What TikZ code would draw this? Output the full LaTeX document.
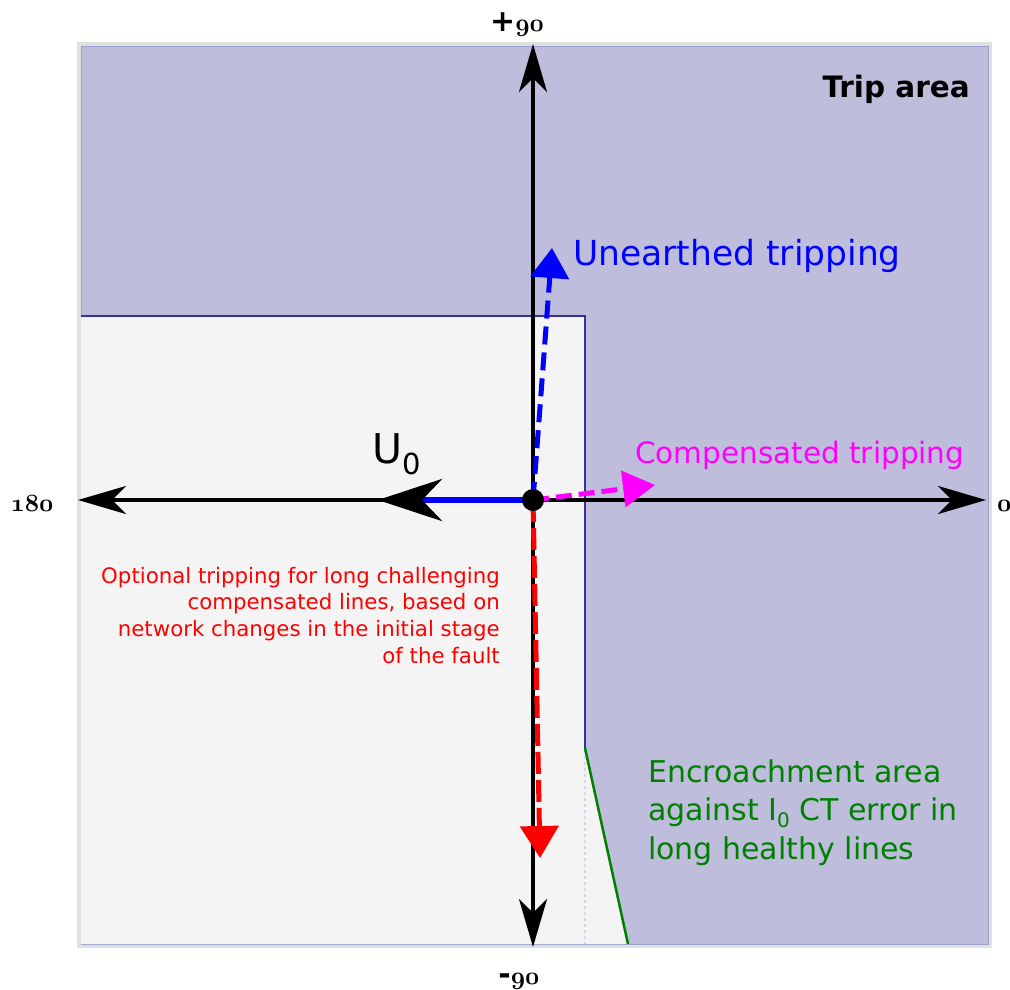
\documentclass[tikz,border=0pt]{standalone}
\usepackage{fontspec}
\setmainfont{DejaVu Sans}
\usetikzlibrary{arrows.meta}
\definecolor{tripfill}{HTML}{BEBEDC}
\definecolor{tripedge}{HTML}{9E9ED0}
\definecolor{lightreg}{HTML}{F4F4F4}
\definecolor{framegray}{HTML}{E0E0E0}
\definecolor{darkedge}{HTML}{333399}
\definecolor{greenline}{HTML}{008000}
\definecolor{lavdash}{HTML}{D6D6EA}
\definecolor{puremag}{HTML}{FF00FF}
\definecolor{purered}{HTML}{FF0000}
\definecolor{pureblue}{HTML}{0000FF}
\newcommand{\oldnum}[1]{{\usefont{OML}{cmm}{b}{it}#1}}
\tikzset{
  axis/.style={line width=4pt, black, {Stealth[length=48pt,width=28pt,inset=14pt]}-{Stealth[length=48pt,width=28pt,inset=14pt]}},
  axlabel/.style={inner sep=0pt, font=\fontsize{30}{30}\selectfont\bfseries},
  dasharrow/.style={line width=5pt, dash pattern=on 18pt off 8pt},
  plain/.style={inner sep=0pt}
}
\begin{document}
\begin{tikzpicture}[x=1pt,y=-1pt]
\useasboundingbox (0,0) rectangle (1010,989);
% frame and regions
\draw[framegray, line width=4pt] (79,44) rectangle (990,946);
\fill[tripfill] (81,46) rectangle (988,944);
\draw[tripedge, line width=1pt] (81,46) rectangle (988,944);
\fill[lightreg] (81,316) -- (585,316) -- (585,748) -- (628,944) -- (81,944) -- cycle;
\draw[lavdash, line width=1.5pt, dashed] (585,750) -- (585,944);
\draw[darkedge, line width=2pt] (81,316) -- (585,316) -- (585,748);
\draw[greenline, line width=2.5pt] (585,748) -- (628,944);
% coordinates
\coordinate (O) at (533,500);
\coordinate (L) at (78,500);
\coordinate (R) at (986,500);
\coordinate (T) at (533,44);
\coordinate (B) at (533,947);
\coordinate (U0tip) at (378,500);
\coordinate (Ut) at (552,248);
\coordinate (Mt) at (655,485);
\coordinate (Rt) at (540,858);
% axes
\draw[axis] (L) -- (R);
\draw[axis] (B) -- (T);
% U0
\draw[pureblue, line width=6pt, -{Stealth[color=black,length=64pt,width=42pt,inset=20pt]}] (O) -- (U0tip);
% dashed arrows
\draw[pureblue, dasharrow, -{Triangle[length=30pt,width=38pt]}] (O) -- (Ut);
\draw[puremag, dasharrow, dash pattern=on 16pt off 7pt, -{Triangle[length=32pt,width=36pt]}] (O) -- (Mt);
\draw[purered, dasharrow, dash pattern=on 22pt off 6pt, -{Triangle[length=32pt,width=38pt]}] (O) -- (Rt);
\node[circle, fill=black, minimum size=22pt, inner sep=0pt] (dot) at (O) {};
% axis labels
\node[axlabel, anchor=base] (lp90) at (517,31) {+\oldnum{90}};
\node[axlabel, anchor=base] (lm90) at (519,984) {-\oldnum{90}};
\node[axlabel, anchor=base] (l180) at (32,511) {\oldnum{180}};
\node[axlabel, anchor=base west] (l0) at (997,511) {\oldnum{0}};
% texts
\node[plain, anchor=base west, font=\fontsize{41}{41}\selectfont] (u0) at (372,463) {U\raisebox{-11pt}{\fontsize{29}{29}\selectfont 0}};
\node[plain, anchor=base west, text=pureblue, font=\fontsize{34.5}{34.5}\selectfont] (unearthed) at (573,265) {Unearthed tripping};
\node[plain, anchor=base west, text=puremag, font=\fontsize{29.5}{29.5}\selectfont] (comp) at (635,463) {Compensated tripping};
\node[plain, anchor=base east, font=\fontsize{29.5}{29.5}\selectfont\bfseries] (trip) at (970,97) {Trip area};
\node[plain, anchor=north east, align=right, text=purered, font=\fontsize{21.3}{26.6}\selectfont] (opt) at (500,567) {Optional tripping for long challenging\\compensated lines, based on\\network changes in the initial stage\\of the fault};
\node[plain, anchor=north west, align=left, text=greenline, font=\fontsize{30}{38.5}\selectfont] (enc) at (648,759) {Encroachment area\\against I\raisebox{-7pt}{\fontsize{20}{20}\selectfont 0} CT error in\\long healthy lines};
\end{tikzpicture}
\end{document}
